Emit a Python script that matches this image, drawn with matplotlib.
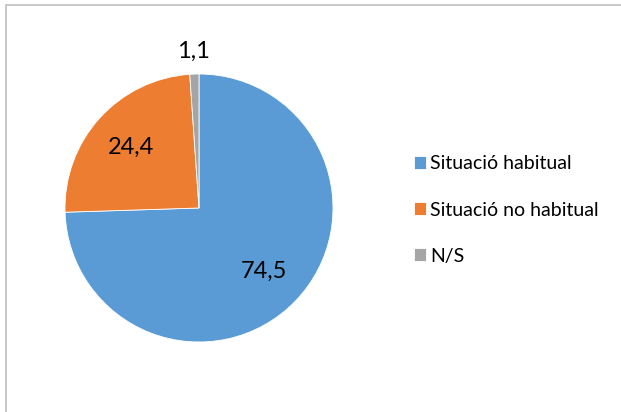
import numpy as np
import matplotlib.pyplot as plt
from matplotlib.patches import Rectangle

labels = ['Situació habitual', 'Situació no habitual', 'N/S']
values = [74.5, 24.4, 1.1]
value_text = ['74,5', '24,4', '1,1']
colors = ['#5B9BD5', '#ED7D31', '#A5A5A5']

plt.rcParams['font.family'] = ['Lato', 'DejaVu Sans']

fig = plt.figure(figsize=(6.21, 4.12), dpi=100)

# light border like the chart area frame
fig.patches.append(Rectangle((6 / 621, -0.05), 1.2, (412 - 5) / 412 + 0.05,
                             transform=fig.transFigure, fill=False,
                             edgecolor='#BFBFBF', linewidth=1.2))

ax = fig.add_axes([65 / 621, 70 / 412, 268 / 621, 268 / 412])
wedges, _ = ax.pie(values, colors=colors, startangle=90, counterclock=False,
                   wedgeprops=dict(edgecolor='white', linewidth=0.6))
ax.set_xlim(-1, 1)
ax.set_ylim(-1, 1)

# label distances (inside for big slices, outside for the tiny one)
dists = [0.68, 0.68, 1.17]
for w, txt, d in zip(wedges, value_text, dists):
    ang = np.deg2rad((w.theta1 + w.theta2) / 2)
    ax.text(d * np.cos(ang), d * np.sin(ang), txt, ha='center', va='center',
            fontsize=17, color='black', clip_on=False)

fig.legend(wedges, labels, loc='center left', bbox_to_anchor=(404 / 621, 1 - 210 / 412),
           frameon=False, fontsize=14, labelspacing=1.5, handlelength=0.65,
           handleheight=0.65, handletextpad=0.2, borderpad=0)

fig.savefig('out.png', dpi=100)
